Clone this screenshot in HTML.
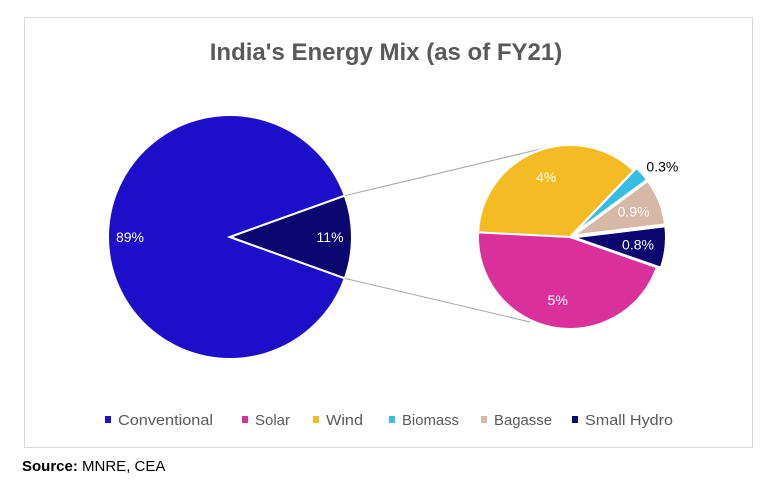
<!DOCTYPE html>
<html><head><meta charset="utf-8"><style>
body{margin:0;background:#fff;width:775px;height:489px;overflow:hidden;font-family:"Liberation Sans",sans-serif}
</style></head><body>
<svg width="775" height="489" id="chart">
<rect x="24.5" y="17.5" width="728" height="430" fill="#fff" stroke="#d9d9d9"/>
<text x="386" y="60" text-anchor="middle" font-size="24" font-weight="bold" fill="#595959">India's Energy Mix (as of FY21)</text>
<g id="main"></g><g id="sub"></g><g id="legend"></g>
<text x="22" y="471" font-size="15" fill="#000"><tspan font-weight="bold">Source:</tspan> MNRE, CEA</text>
</svg>
<script>
const mainCats=["Conventional","Renewable"];
const mainVals=[89,11];
const mainLabels=["89%","11%"];
const subCats=["Wind","Biomass","Bagasse","Small Hydro","Solar"];
const subVals=[4,0.3,0.9,0.8,5];
const subLabels=["4%","0.3%","0.9%","0.8%","5%"];
const legendCats=["Conventional","Solar","Wind","Biomass","Bagasse","Small Hydro"];
const colors={"Conventional":"#1d0ec9","Renewable":"#0b0670","Solar":"#d9309b","Wind":"#f4bc22","Biomass":"#35bde4","Bagasse":"#d5b8a6","Small Hydro":"#0b0670"};
const NS="http://www.w3.org/2000/svg";
function mk(t,a,p){const e=document.createElementNS(NS,t);for(const k in a)e.setAttribute(k,a[k]);p.appendChild(e);return e;}
function pt(cx,cy,r,a){return [cx+r*Math.cos(a),cy+r*Math.sin(a)];}
function arc(cx,cy,r,a0,a1){const p0=pt(cx,cy,r,a0),p1=pt(cx,cy,r,a1);const l=(a1-a0)>Math.PI?1:0;
return `M${cx},${cy}L${p0[0]},${p0[1]}A${r},${r} 0 ${l} 1 ${p1[0]},${p1[1]}Z`;}
const mg=document.getElementById('main');
const mcx=230,mcy=237,mr=122;
const mtot=mainVals.reduce((a,b)=>a+b,0);
const rAng=mainVals[1]/mtot*2*Math.PI;
const mainStarts=[rAng/2,-rAng/2];
mainVals.forEach((v,i)=>{
  const s=mainStarts[i],e=s+v/mtot*2*Math.PI;
  const p=mk('path',{d:arc(mcx,mcy,mr,s,e),fill:colors[mainCats[i]],stroke:'#fff','stroke-width':2},mg);
  
  
  const m=(s+e)/2,lp=pt(mcx,mcy,mr*0.82,m);
  const t=mk('text',{x:lp[0],y:lp[1]+5,'text-anchor':'middle','font-size':14,fill:'#fff'},mg);
  t.textContent=mainLabels[i];
  
  
});
const sg=document.getElementById('sub');
const scx=570,scy=237,sr=92;
const stot=subVals.reduce((x,y)=>x+y,0);
const pT=pt(mcx,mcy,mr,-rAng/2),pB=pt(mcx,mcy,mr,rAng/2);
let l1=mk('line',{x1:pT[0],y1:pT[1],x2:545,y2:148,stroke:'#a6a6a6','stroke-width':1},sg);


let l2=mk('line',{x1:pB[0],y1:pB[1],x2:530,y2:322,stroke:'#a6a6a6','stroke-width':1},sg);


let cur=Math.PI+0.05;
const labelColors=["#fff","#000","#fff","#fff","#fff"];
subVals.forEach((v,i)=>{
  const s=cur,e=cur+v/stot*2*Math.PI;cur=e;
  const m=(s+e)/2;
  const off=(i>=1&&i<=3)?4:0;
  const cx=scx+off*Math.cos(m),cy=scy+off*Math.sin(m);
  const p=mk('path',{d:arc(cx,cy,sr,s,e),fill:colors[subCats[i]],stroke:'#fff','stroke-width':2},sg);
  
  
  const lr=i===1?sr*1.12:sr*0.7;
  const lp=pt(cx,cy,lr,m);
  const t=mk('text',{x:lp[0]+(i===1?12:0),y:lp[1]+5,'text-anchor':'middle','font-size':14,fill:labelColors[i]},sg);
  t.textContent=subLabels[i];
  
  
});
const lg=document.getElementById('legend');
const lx=[105,242,313,389,481,572];
const lw=[95,35,37,57,58,88];
legendCats.forEach((c,i)=>{
  const g=mk('g',{},lg);
  
  
  mk('rect',{x:lx[i],y:416,width:6,height:7,fill:colors[c]},g);
  const t=mk('text',{x:lx[i]+13,y:425,'font-size':15,fill:'#595959',textLength:lw[i],lengthAdjust:'spacingAndGlyphs'},g);
  t.textContent=c;
});
</script>
</body></html>
